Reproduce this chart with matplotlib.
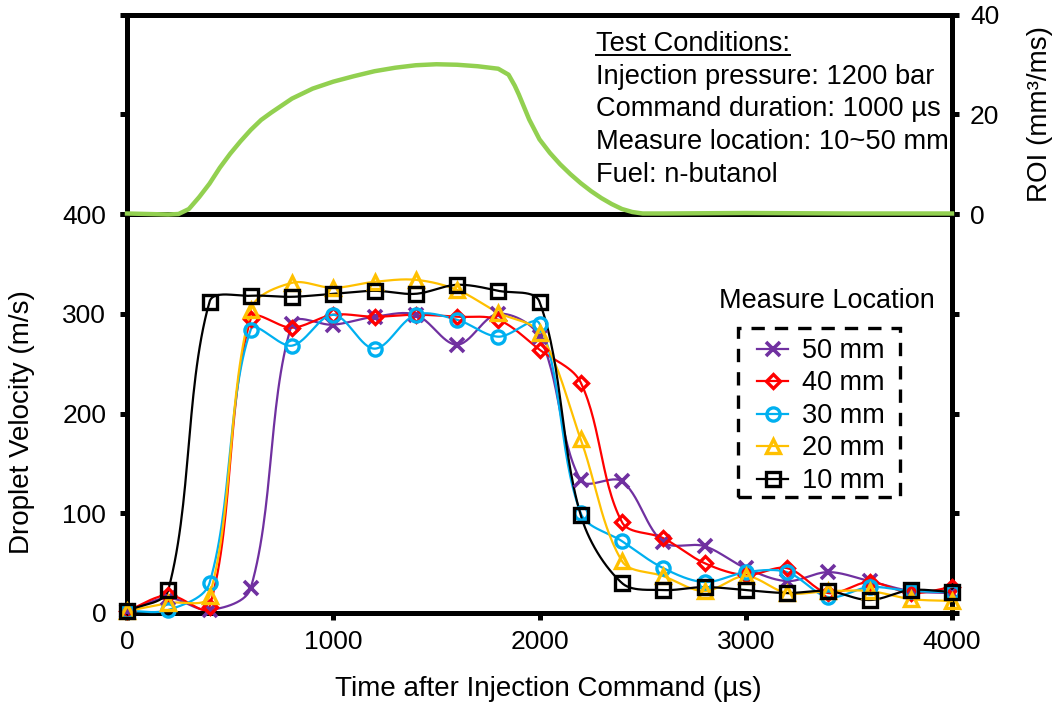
import numpy as np
import matplotlib
matplotlib.use('Agg')
import matplotlib.pyplot as plt
from matplotlib.lines import Line2D
from matplotlib.patches import Rectangle

plt.rcParams['font.family'] = ['Liberation Sans', 'DejaVu Sans']
FS_TICK = 19
FS_LAB = 20
FS_COND = 19.6
FS_LEG = 19.5

# ---------------- data ----------------
time_us = [0, 200, 400, 600, 800, 1000, 1200, 1400, 1600, 1800, 2000,
           2200, 2400, 2600, 2800, 3000, 3200, 3400, 3600, 3800, 4000]
v_50mm = [2, 15, 3, 25, 290, 289, 297, 299, 269, 300, 277,
          133, 132, 71, 67, 45, 32, 41, 32, 22, 20]
v_40mm = [2, 18, 6, 295, 286, 299, 297, 299, 297, 294, 264,
          231, 91, 75, 50, 38, 45, 20, 31, 20, 26]
v_30mm = [2, 3, 30, 284, 268, 299, 265, 299, 294, 277, 290,
          100, 72, 45, 31, 41, 41, 16, 26, 22, 21]
v_20mm = [2, 10, 17, 304, 331, 326, 332, 334, 324, 301, 281,
          174, 52, 37, 22, 37, 20, 22, 22, 14, 12]
v_10mm = [2, 23, 312, 318, 317, 320, 323, 320, 329, 323, 312,
          98, 30, 23, 26, 23, 20, 22, 13, 23, 21]
series_labels = ['50 mm', '40 mm', '30 mm', '20 mm', '10 mm']

roi_t = [0, 100, 200, 250, 300, 350, 400, 450, 500, 550, 600, 650, 700,
         800, 900, 1000, 1100, 1200, 1300, 1400, 1500, 1600, 1700, 1800,
         1850, 1880, 1900, 1950, 2000, 2050, 2100, 2150, 2200, 2250, 2300,
         2350, 2400, 2450, 2500, 2600, 3000, 3500, 4000]
roi_v = [0.1, 0.0, -0.1, 0.0, 1.0, 3.4, 6.1, 9.3, 12.1, 14.6, 16.9, 18.9, 20.4,
         23.2, 25.2, 26.6, 27.7, 28.7, 29.4, 29.9, 30.1, 30.0, 29.7, 29.2,
         28.0, 25.8, 24.0, 19.0, 15.0, 12.3, 10.0, 8.0, 6.2, 4.6, 3.2,
         2.0, 1.0, 0.4, 0.1, 0.1, 0.2, 0.1, 0.1]

conditions = ['Test Conditions:',
              'Injection pressure: 1200 bar',
              'Command duration: 1000 \u00b5s',
              'Measure location: 10~50 mm',
              'Fuel: n-butanol']

W, H = 1064, 709
L_PX, R_PX, TOP_PX, MID_PX, BOT_PX = 127, 952, 15, 214, 613
XSCALE = (R_PX - L_PX) / 4000.0
YSCALE = (BOT_PX - MID_PX) / 400.0


# ---------------- helpers ----------------
def smooth(x, y, n=30):
    """Excel-like smoothed line: Bezier segments with chord-scaled tangents
    computed in screen space."""
    p = np.column_stack([np.asarray(x, float) * XSCALE,
                         np.asarray(y, float) * YSCALE])
    m = len(p)
    d = np.linalg.norm(np.diff(p, axis=0), axis=1)
    T = np.zeros_like(p)
    for i in range(m):
        a = p[i - 1] if i > 0 else p[i]
        b = p[i + 1] if i < m - 1 else p[i]
        da = d[i - 1] if i > 0 else 0.0
        db = d[i] if i < m - 1 else 0.0
        T[i] = (b - a) / max(da + db, 1e-9)
    tt = np.linspace(0, 1, n, endpoint=False)[:, None]
    out = []
    for i in range(m - 1):
        p1, p2 = p[i], p[i + 1]
        c1 = p1 + T[i] * d[i] / 3.0
        c2 = p2 - T[i + 1] * d[i] / 3.0
        seg = ((1 - tt) ** 3) * p1 + 3 * ((1 - tt) ** 2) * tt * c1 \
            + 3 * (1 - tt) * tt ** 2 * c2 + tt ** 3 * p2
        out.append(seg)
    out.append(p[-1][None, :])
    out = np.vstack(out)
    return out[:, 0] / XSCALE, out[:, 1] / YSCALE


fig = plt.figure(figsize=(W / 100, H / 100), dpi=100)
L, R = L_PX / W, R_PX / W
ax = fig.add_axes([L, 1 - BOT_PX / H, R - L, (BOT_PX - MID_PX) / H])
axr = fig.add_axes([L, 1 - MID_PX / H, R - L, (MID_PX - TOP_PX) / H])

SPW = 3.6
for a in (ax, axr):
    for s in a.spines.values():
        s.set_linewidth(SPW)
        s.set_color('black')

# --------------- bottom panel ---------------
styles = [
    dict(color='#7030A0', marker='x', ms=10, mew=2.6),
    dict(color='#FF0000', marker='D', ms=7.5, mew=2.4),
    dict(color='#00B0F0', marker='o', ms=9.5, mew=2.4),
    dict(color='#FFC000', marker='^', ms=10.5, mew=2.4),
    dict(color='#000000', marker='s', ms=10, mew=2.4),
]
all_series = [v_50mm, v_40mm, v_30mm, v_20mm, v_10mm]
handles = []
for vals, st, lab in zip(all_series, styles, series_labels):
    sx, sy = smooth(time_us, vals)
    ax.plot(sx, sy, color=st['color'], lw=1.6, zorder=3, clip_on=False)
    ax.plot(time_us, vals, linestyle='none', marker=st['marker'],
            ms=st['ms'], mew=st['mew'], mec=st['color'], mfc='none',
            zorder=4, clip_on=False)
    handles.append(Line2D([], [], color=st['color'], lw=1.6,
                          marker=st['marker'], ms=st['ms'], mew=st['mew'],
                          mec=st['color'], mfc='none'))

ax.set_xlim(0, 4000)
ax.set_ylim(0, 400)
ax.set_xticks([0, 1000, 2000, 3000, 4000])
ax.set_yticks([0, 100, 200, 300, 400])
ax.tick_params(axis='both', direction='out', length=5, width=SPW,
               labelsize=FS_TICK, right=True, labelright=False)
ax.tick_params(axis='y', pad=10)
ax.tick_params(axis='x', pad=7)

leg = ax.legend(handles, series_labels, loc='upper left',
                bbox_to_anchor=(757 / W, 1 - 338 / H),
                bbox_transform=fig.transFigure, fontsize=FS_LEG,
                handlelength=1.15, handletextpad=0.5, labelspacing=0.24,
                borderpad=0, borderaxespad=0, frameon=False)

# dashed legend box
fig.add_artist(Rectangle((738 / W, 1 - 497 / H), (900 - 738) / W,
                         (497 - 328) / H, transform=fig.transFigure,
                         fill=False, edgecolor='black', lw=2.4,
                         linestyle=(0, (4, 3))))

fig.text(827 / W, 1 - 308 / H, 'Measure Location', fontsize=FS_LEG,
         ha='center', va='baseline')

# --------------- top panel ---------------
axr.plot(roi_t, roi_v, color='#92D050', lw=3.2, zorder=3, clip_on=False)
axr.set_xlim(0, 4000)
axr.set_ylim(0, 40)
axr.set_xticks([])
axr.set_yticks([0, 20, 40])
axr.tick_params(axis='y', direction='out', length=5, width=SPW,
                labelsize=FS_TICK, left=True, labelleft=False,
                right=True, labelright=True, pad=8)

# text block
base_y = [51, 84, 116.5, 149, 181.5]
txts = []
for s, by in zip(conditions, base_y):
    txts.append(fig.text(596 / W, 1 - by / H, s, fontsize=FS_COND,
                         ha='left', va='baseline'))

# axis labels
fig.text(22 / W, 1 - 422 / H, 'Droplet Velocity (m/s)', fontsize=FS_LAB,
         rotation=90, ha='center', va='center')
fig.text(548 / W, 1 - 689 / H, 'Time after Injection Command (\u00b5s)',
         fontsize=FS_LAB, ha='center', va='center')
fig.text(1040 / W, 1 - 114 / H, 'ROI (mm\u00b3/ms)', fontsize=FS_LAB,
         rotation=90, ha='center', va='center')

# underline for the heading
fig.canvas.draw()
bb = txts[0].get_window_extent(fig.canvas.get_renderer())
uy = 1 - 55 / H
fig.add_artist(Line2D([bb.x0 / W, bb.x1 / W], [uy, uy], color='black',
                      lw=1.4, transform=fig.transFigure))

fig.savefig('out.png', dpi=100)
